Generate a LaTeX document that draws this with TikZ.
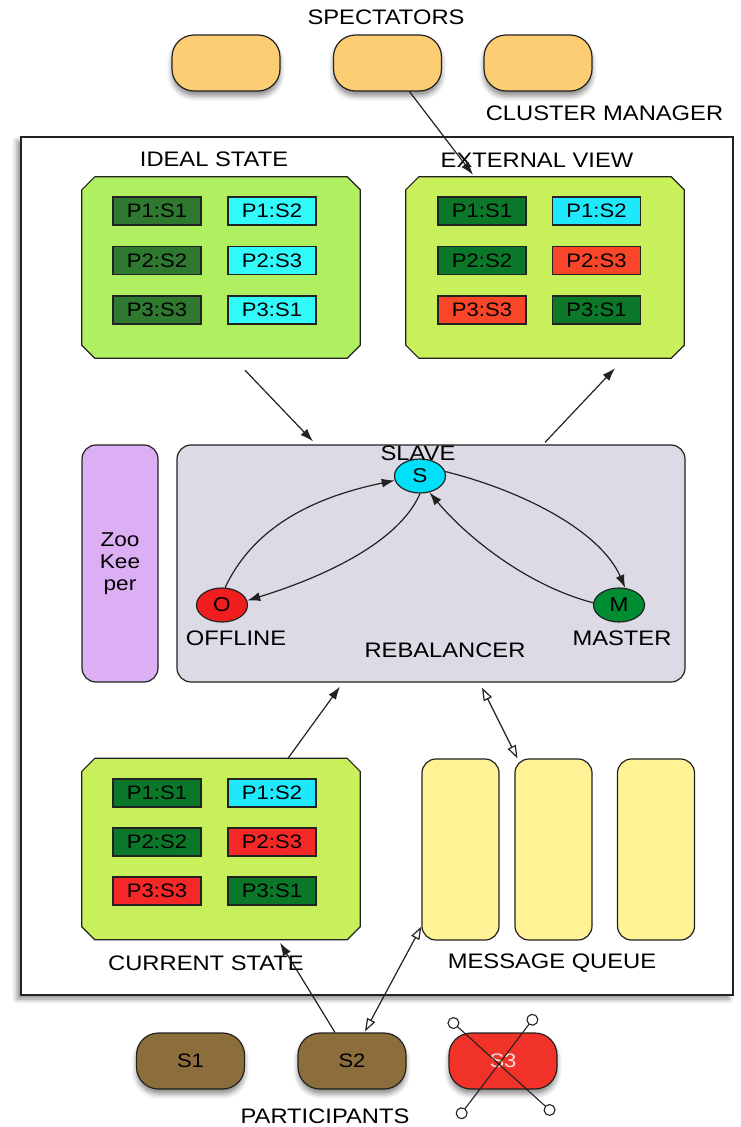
\documentclass[tikz,border=0pt]{standalone}
\usepackage{fontspec}
\setmainfont{Liberation Sans}[FakeStretch=1.13]
\usetikzlibrary{arrows.meta,shapes.geometric,shadows.blur}

\definecolor{idealfill}{HTML}{B0F060}
\definecolor{viewfill}{HTML}{C8F05A}
\definecolor{idealgreen}{HTML}{2E7830}
\definecolor{livegreen}{HTML}{0A7828}
\definecolor{idealcyan}{HTML}{33FAFA}
\definecolor{livecyan}{HTML}{1EE8FA}
\definecolor{viewred}{HTML}{FA4628}
\definecolor{curred}{HTML}{F52828}
\definecolor{specfill}{HTML}{FDCD73}
\definecolor{partfill}{HTML}{8C6E3C}
\definecolor{deadfill}{HTML}{F03228}
\definecolor{rebalfill}{HTML}{DCDAE4}
\definecolor{zkfill}{HTML}{DCAFF5}
\definecolor{mqfill}{HTML}{FFF396}
\definecolor{stS}{HTML}{00E0F8}
\definecolor{stO}{HTML}{F01E1E}
\definecolor{stM}{HTML}{008C32}
\definecolor{edge}{HTML}{222222}

\tikzset{
  lbl/.style={font=\fontsize{21}{24}\selectfont, inner sep=0, text=black},
  panelbox/.style={rectangle, minimum width=278pt, minimum height=181pt, inner sep=0},
  cell/.style={draw=edge, line width=1.2pt, minimum width=88pt, minimum height=28pt,
    inner sep=0, font=\fontsize{19.5}{20}\selectfont},
  specpill/.style={draw=edge, line width=1.2pt, fill=specfill, rounded corners=22pt,
    minimum width=108pt, minimum height=56pt, inner sep=0,
    blur shadow={shadow xshift=0pt, shadow yshift=-5pt, shadow blur radius=5pt, shadow opacity=45}},
  partpill/.style={specpill, fill=partfill, font=\fontsize{19.5}{20}\selectfont},
  roundbox/.style={draw=edge, line width=1.2pt, rounded corners=14pt, inner sep=0},
  mqbox/.style={roundbox, fill=mqfill, minimum width=77pt, minimum height=181pt},
  state/.style={ellipse, draw=edge, line width=1.2pt, minimum width=51pt,
    minimum height=34pt, inner sep=0, font=\fontsize{20}{20}\selectfont},
  flow/.style={draw=edge, line width=1.2pt, -{Latex[length=13pt,width=9pt]}},
  msg/.style={draw=edge, line width=1.2pt,
    {Triangle[open,length=13pt,width=9pt,fill=white]}-{Triangle[open,length=13pt,width=9pt,fill=white]}},
  xline/.style={draw=edge, line width=1.1pt,
    {Circle[open,length=12pt,fill=white]}-{Circle[open,length=12pt,fill=white]}},
}

% chamfered outline around a named panel node
\newcommand\chamferpanel[2]{%
  \filldraw[fill=#2, draw=edge, line width=1.2pt]
    ([xshift=13pt]#1.north west) -- ([xshift=-13pt]#1.north east)
    -- ([yshift=-13pt]#1.north east) -- ([yshift=13pt]#1.south east)
    -- ([xshift=-13pt]#1.south east) -- ([xshift=13pt]#1.south west)
    -- ([yshift=13pt]#1.south west) -- ([yshift=-13pt]#1.north west) -- cycle;}

\begin{document}
\begin{tikzpicture}[x=1pt,y=-1pt]
\useasboundingbox (0,0) rectangle (740,1127);

% cluster frame
\node[draw=edge, line width=1.5pt, fill=white, minimum width=712pt, minimum height=858pt,
  inner sep=0, blur shadow={shadow xshift=-4pt, shadow yshift=-4pt, shadow blur radius=5pt, shadow opacity=45}]
  (frame) at (377,566) {};

% spectators
\node[lbl] (spectlbl) at (386,17) {SPECTATORS};
\node[specpill] (spec1) at (226,63) {};
\node[specpill] (spec2) at (387.5,63) {};
\node[specpill] (spec3) at (538,63) {};
\node[lbl] (cmlbl) at (604.5,113) {CLUSTER MANAGER};

% ideal state
\node[lbl] (ideallbl) at (214,159) {IDEAL STATE};
\node[panelbox] (ideal) at (221,267.5) {};
\chamferpanel{ideal}{idealfill}
\node[cell, fill=idealgreen] (i11) at (157,211) {P1:S1};
\node[cell, fill=idealcyan]  (i12) at (272,211) {P1:S2};
\node[cell, fill=idealgreen] (i21) at (157,260.5) {P2:S2};
\node[cell, fill=idealcyan]  (i22) at (272,260.5) {P2:S3};
\node[cell, fill=idealgreen] (i31) at (157,310) {P3:S3};
\node[cell, fill=idealcyan]  (i32) at (272,310) {P3:S1};

% external view
\node[lbl] (extlbl) at (537,160) {EXTERNAL VIEW};
\node[panelbox] (ext) at (545,267.5) {};
\chamferpanel{ext}{viewfill}
\node[cell, fill=livegreen] (e11) at (482,211) {P1:S1};
\node[cell, fill=livecyan]  (e12) at (596.5,211) {P1:S2};
\node[cell, fill=livegreen] (e21) at (482,260.5) {P2:S2};
\node[cell, fill=viewred]   (e22) at (596.5,260.5) {P2:S3};
\node[cell, fill=viewred]   (e31) at (482,310) {P3:S3};
\node[cell, fill=livegreen] (e32) at (596.5,310) {P3:S1};

% zookeeper and rebalancer
\node[roundbox, fill=zkfill, minimum width=76pt, minimum height=237pt,
  align=center, font=\fontsize{20}{22}\selectfont] (zk) at (120,563.5) {Zoo\\Kee\\per};
\node[roundbox, fill=rebalfill, minimum width=508pt, minimum height=237pt] (rebal) at (431,563.5) {};
\node[lbl] (reballbl) at (445,650) {REBALANCER};

% state machine
\node[state, fill=stS] (S) at (420,476) {S};
\node[state, fill=stO] (O) at (222,605) {O};
\node[state, fill=stM] (M) at (619,605) {M};
\node[lbl] (slavelbl) at (418,453) {SLAVE};
\node[lbl] (offlbl) at (236,638) {OFFLINE};
\node[lbl] (mastlbl) at (622,638) {MASTER};

\draw[flow] (O.80) .. controls (250,535) and (300,500) .. (S.190);
\draw[flow] (S.south) .. controls (400,540) and (330,575) .. (O.10);
\draw[flow] (S.10) .. controls (520,490) and (600,530) .. (M.70);
\draw[flow] (M.175) .. controls (525,585) and (465,535) .. (S.300);

% current state
\node[panelbox] (cur) at (221,849) {};
\chamferpanel{cur}{viewfill}
\node[cell, fill=livegreen] (c11) at (157,793) {P1:S1};
\node[cell, fill=livecyan]  (c12) at (272,793) {P1:S2};
\node[cell, fill=livegreen] (c21) at (157,842) {P2:S2};
\node[cell, fill=curred]    (c22) at (272,842) {P2:S3};
\node[cell, fill=curred]    (c31) at (157,891) {P3:S3};
\node[cell, fill=livegreen] (c32) at (272,891) {P3:S1};
\node[lbl] (curlbl) at (206,963) {CURRENT STATE};

% message queue
\node[mqbox] (mq1) at (460.5,849.5) {};
\node[mqbox] (mq2) at (553.5,849.5) {};
\node[mqbox] (mq3) at (656,849.5) {};
\node[lbl] (mqlbl) at (552,963) {MESSAGE QUEUE};

% participants
\node[partpill] (s1) at (190.5,1061) {S1};
\node[partpill] (s2) at (352,1061) {S2};
\node[partpill, fill=deadfill, text={rgb,255:red,250;green,222;blue,222}] (s3) at (503,1061) {S3};
\node[lbl] (partlbl) at (325,1116) {PARTICIPANTS};

% connectors
\draw[flow] ([xshift=22pt]spec2.south) -- ([xshift=-72pt,yshift=2pt]ext.north);
\draw[flow] ([xshift=24pt,yshift=-12pt]ideal.south) -- ([xshift=-118pt,yshift=3pt]rebal.north);
\draw[flow] ([xshift=114pt,yshift=2pt]rebal.north) -- ([xshift=70pt,yshift=-10pt]ext.south);
\draw[flow] ([xshift=67pt]cur.north) -- ([xshift=-91pt,yshift=-4pt]rebal.south);
\draw[msg] ([xshift=51pt,yshift=-5pt]rebal.south) -- ([xshift=-36pt]mq2.north);
\draw[flow] ([xshift=-17pt]s2.north) -- ([xshift=59pt,yshift=-3pt]cur.south);
\draw[msg] ([xshift=13pt,yshift=1pt]s2.north) -- ([yshift=-77pt]mq1.west);

% failed participant
\coordinate (xa) at (449,1019);
\coordinate (xb) at (554,1114);
\coordinate (xc) at (536,1015);
\coordinate (xd) at (458,1118);
\draw[xline] (xa) -- (xb);
\draw[xline] (xc) -- (xd);
\end{tikzpicture}
\end{document}
